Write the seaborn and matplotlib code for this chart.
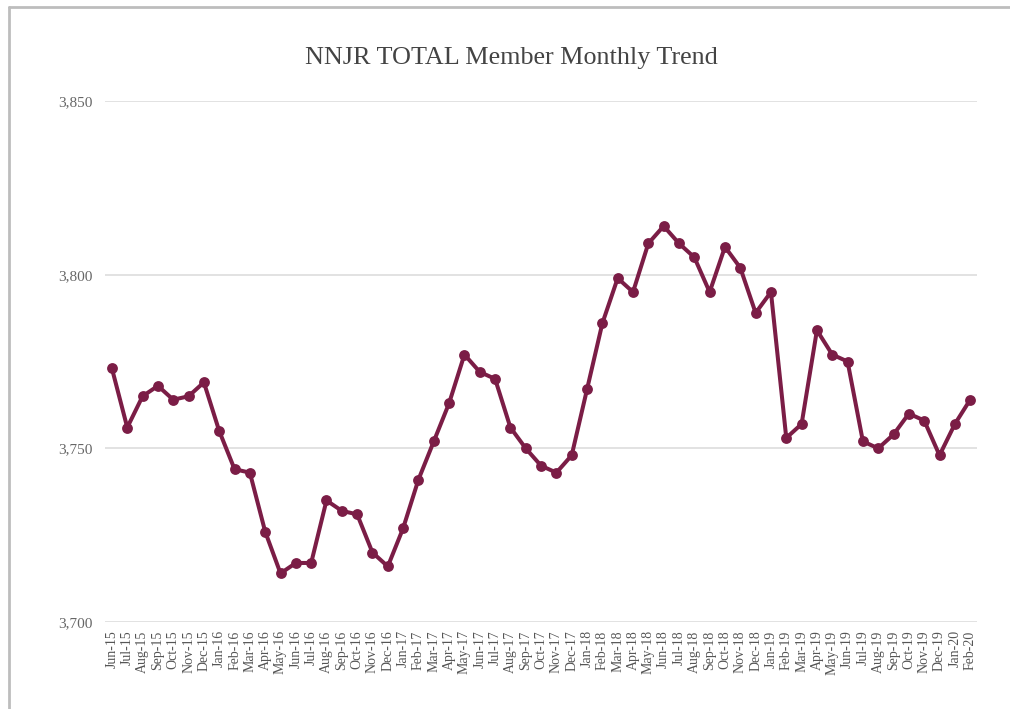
import matplotlib
matplotlib.use("Agg")
import matplotlib.pyplot as plt
import numpy as np
import pandas as pd
import seaborn as sns
from matplotlib.lines import Line2D

months = ["Jun-15", "Jul-15", "Aug-15", "Sep-15", "Oct-15", "Nov-15", "Dec-15",
          "Jan-16", "Feb-16", "Mar-16", "Apr-16", "May-16", "Jun-16", "Jul-16",
          "Aug-16", "Sep-16", "Oct-16", "Nov-16", "Dec-16",
          "Jan-17", "Feb-17", "Mar-17", "Apr-17", "May-17", "Jun-17", "Jul-17",
          "Aug-17", "Sep-17", "Oct-17", "Nov-17", "Dec-17",
          "Jan-18", "Feb-18", "Mar-18", "Apr-18", "May-18", "Jun-18", "Jul-18",
          "Aug-18", "Sep-18", "Oct-18", "Nov-18", "Dec-18",
          "Jan-19", "Feb-19", "Mar-19", "Apr-19", "May-19", "Jun-19", "Jul-19",
          "Aug-19", "Sep-19", "Oct-19", "Nov-19", "Dec-19",
          "Jan-20", "Feb-20"]
members = [3773, 3756, 3765, 3768, 3764, 3765, 3769,
           3755, 3744, 3743, 3726, 3714, 3717, 3717,
           3735, 3732, 3731, 3720, 3716,
           3727, 3741, 3752, 3763, 3777, 3772, 3770,
           3756, 3750, 3745, 3743, 3748,
           3767, 3786, 3799, 3795, 3809, 3814, 3809,
           3805, 3795, 3808, 3802, 3789,
           3795, 3753, 3757, 3784, 3777, 3775, 3752,
           3750, 3754, 3760, 3758, 3748,
           3757, 3764]
yticks = [3700, 3750, 3800, 3850]

df = pd.DataFrame({"idx": np.arange(len(months)), "month": months, "members": members})

sns.set_style("white")
plt.rcParams["font.family"] = ["Liberation Serif", "DejaVu Serif"]

fig = plt.figure(figsize=(10.1, 7.09), dpi=100)
ax = fig.add_axes([0.104, 0.1227, 0.8634, 0.7348])

for y in yticks:
    ax.axhline(y, color="#e2e2e2", lw=1.4, zorder=0)

sns.lineplot(data=df, x="idx", y="members", ax=ax, color="#7b1d46",
             linewidth=2.9, marker="o", markersize=7.8, markeredgewidth=0,
             clip_on=False)

ax.set_xlim(-0.45, 56.45)
ax.set_ylim(3700, 3850)
ax.set_yticks(yticks)
ax.set_yticklabels([f"{v:,}" for v in yticks], fontsize=11, color="#666666")
ax.set_xticks(df["idx"])
ax.set_xticklabels(months, rotation=90, fontsize=10, color="#555555")
ax.tick_params(axis="both", length=0, pad=9)
ax.tick_params(axis="x", pad=6)
ax.set_xlabel("")
ax.set_ylabel("")
for s in ax.spines.values():
    s.set_visible(False)

fig.text(0.506, 0.918, "NNJR TOTAL Member Monthly Trend", ha="center", va="center",
         fontsize=18.8, color="#444444")

# photo frame edges
fig.add_artist(Line2D([0.009, 0.009], [0, 0.99], color="#bdbdbd", lw=2))
fig.add_artist(Line2D([0.009, 1.0], [0.99, 0.99], color="#bdbdbd", lw=2))

fig.savefig("out.png", dpi=100)
